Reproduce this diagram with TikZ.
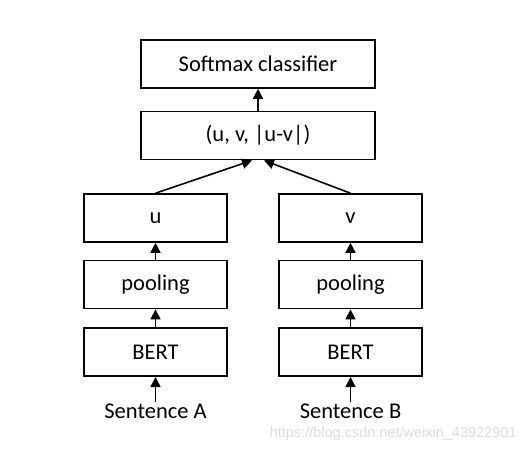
\documentclass[tikz,border=0pt]{standalone}
\usepackage{fontspec}
\setmainfont{Carlito}
\newfontfamily\markfont{Liberation Sans}
\usepackage{tikz}
\usetikzlibrary{arrows.meta}
\usetikzlibrary{positioning}

\begin{document}
\begin{tikzpicture}[x=1pt, y=1pt, node distance=17pt,
				   every node/.style={font=\fontsize{22.5}{26}\selectfont},
				   block/.style={draw=black, line width=1.6pt, minimum height=48pt, inner sep=0pt},
				   wide/.style={block, minimum width=234pt},
				   narrow/.style={block, minimum width=143pt},
				   link/.style={->, line width=1.6pt},
				   >={Triangle[length=10pt, width=10pt]}]
\useasboundingbox (0,0) rectangle (528,-453);
% top of the network
\node[wide] (softmax) at (258,-64) {Softmax classifier};
\node[wide, below=22pt of softmax] (concat) {(u, v, |u-v|)};
% two branches
\node[narrow] (u) at (155.5,-218) {u};
\node[narrow] (v) at (350.5,-218) {v};
\node[narrow, below=of u] (poolA) {pooling};
\node[narrow, below=of v] (poolB) {pooling};
\node[narrow, below=18pt of poolA] (bertA) {BERT};
\node[narrow, below=18pt of poolB] (bertB) {BERT};
\node[below=25pt of bertA, inner sep=2pt] (sentA) {Sentence A};
\node[below=25pt of bertB, inner sep=2pt] (sentB) {Sentence B};
% watermark
\node[anchor=east, text=black!14, font=\markfont\fontsize{14.5}{16}\selectfont] (mark) at (520,-434) {https://blog.csdn.net/weixin\_43922901};

\draw[link] (sentA) -- (bertA);
\draw[link] (sentB) -- (bertB);
\draw[link] (bertA) -- (poolA);
\draw[link] (bertB) -- (poolB);
\draw[link] (poolA) -- (u);
\draw[link] (poolB) -- (v);
\draw[link] (u.north) -- ([xshift=-6pt]concat.south);
\draw[link] (v.north) -- ([xshift=6pt]concat.south);
\draw[link] (concat) -- (softmax);
\end{tikzpicture}
\end{document}
